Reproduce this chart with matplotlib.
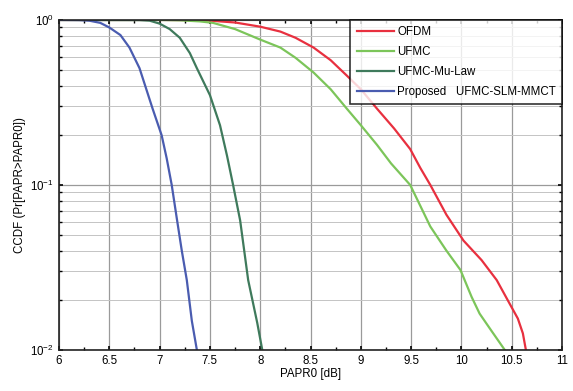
import matplotlib
matplotlib.use("Agg")
import matplotlib.pyplot as plt
from matplotlib.ticker import FixedLocator, LogLocator, NullFormatter

plt.rcParams['font.family'] = ['Liberation Sans', 'DejaVu Sans']
plt.rcParams['mathtext.default'] = 'regular'

# Data (PAPR0 in dB, CCDF)
ofdm_x = [6.0, 7.0, 7.3, 7.5, 7.75, 8.0, 8.2, 8.35, 8.53, 8.7, 8.86, 9.0, 9.16, 9.33, 9.49,
          9.59, 9.69, 9.85, 10.02, 10.2, 10.35, 10.48, 10.56, 10.61, 10.64]
ofdm_y = [1.0, 1.0, 0.998, 0.99, 0.965, 0.91, 0.85, 0.78, 0.68, 0.57, 0.46, 0.38, 0.29, 0.22, 0.165,
          0.127, 0.1, 0.066, 0.046, 0.035, 0.0265, 0.019, 0.0155, 0.0126, 0.01]

ufmc_x = [6.0, 7.0, 7.2, 7.4, 7.53, 7.75, 8.0, 8.2, 8.35, 8.53, 8.7, 8.86, 9.0, 9.16, 9.3, 9.49,
          9.69, 9.85, 9.99, 10.1, 10.18, 10.3, 10.43]
ufmc_y = [1.0, 1.0, 0.995, 0.98, 0.96, 0.88, 0.76, 0.68, 0.59, 0.48, 0.38, 0.29, 0.23, 0.175, 0.135, 0.1,
          0.056, 0.04, 0.0305, 0.021, 0.0166, 0.013, 0.01]

mulaw_x = [6.0, 6.8, 6.9, 7.0, 7.1, 7.2, 7.3, 7.37, 7.5, 7.6, 7.67, 7.73, 7.8, 7.88, 7.97, 8.02]
mulaw_y = [1.0, 0.998, 0.99, 0.95, 0.88, 0.78, 0.63, 0.51, 0.35, 0.23, 0.15, 0.1, 0.061, 0.0265, 0.0146, 0.01]

prop_x = [6.0, 6.2, 6.3, 6.41, 6.5, 6.61, 6.7, 6.8, 6.93, 7.02, 7.07, 7.12, 7.17, 7.22, 7.27, 7.32, 7.37]
prop_y = [1.0, 0.998, 0.99, 0.96, 0.9, 0.81, 0.68, 0.51, 0.29, 0.2, 0.145, 0.1, 0.063, 0.04, 0.0265, 0.015, 0.01]

labels = ['OFDM', 'UFMC', 'UFMC-Mu-Law', 'Proposed   UFMC-SLM-MMCT']
xticks = [6, 6.5, 7, 7.5, 8, 8.5, 9, 9.5, 10, 10.5, 11]
xticklabels = ['6', '6.5', '7', '7.5', '8', '8.5', '9', '9.5', '10', '10.5', '11']

fig = plt.figure(figsize=(5.73, 3.91), dpi=100)
ax = fig.add_axes([0.103, 0.105, 0.878, 0.844])

colors = ['#e8303f', '#7cc55a', '#3f7a5c', '#4a5cb0']
series = [(ofdm_x, ofdm_y), (ufmc_x, ufmc_y), (mulaw_x, mulaw_y), (prop_x, prop_y)]
for (xs, ys), c, lab in zip(series, colors, labels):
    ax.plot(xs, ys, color=c, lw=1.6, label=lab)

ax.set_yscale('log')
ax.set_xlim(6, 11)
ax.set_ylim(1e-2, 1)
ax.set_xticks(xticks)
ax.set_xticklabels(xticklabels)
ax.xaxis.set_minor_locator(FixedLocator([6.25 + 0.5 * i for i in range(10)]))
ax.yaxis.set_major_locator(LogLocator(base=10, numticks=5))
ax.yaxis.set_minor_locator(LogLocator(base=10, subs=range(2, 10), numticks=20))
ax.yaxis.set_minor_formatter(NullFormatter())

ax.grid(True, which='major', color='#9a9a9a', lw=0.9)
ax.grid(True, which='minor', axis='y', color='#c4c4c4', lw=0.7)
ax.set_axisbelow(True)

ax.tick_params(which='both', direction='in', top=True, right=True, labelsize=8.3, colors='black')
ax.tick_params(which='major', length=3, width=1.2)
ax.tick_params(which='minor', length=2, width=1.0)
for s in ax.spines.values():
    s.set_linewidth(1.2)
    s.set_color('#222222')

ax.set_xlabel('PAPR0 [dB]', fontsize=8.3, labelpad=1)
ax.set_ylabel('CCDF (Pr[PAPR>PAPR0])', fontsize=8.3, labelpad=3)

leg = ax.legend(loc='upper right', fontsize=8.3, frameon=True, fancybox=False,
                edgecolor='black', borderaxespad=0, handlelength=3.2,
                handletextpad=0.3, labelspacing=0.68, borderpad=0.55)
leg.get_frame().set_linewidth(1.2)

fig.savefig('out.png', dpi=100)
